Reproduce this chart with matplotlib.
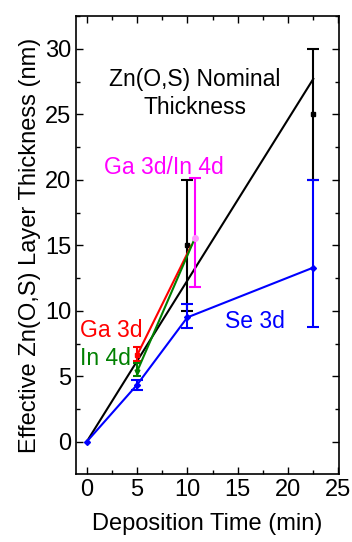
import matplotlib
matplotlib.use('Agg')
import matplotlib.pyplot as plt
from matplotlib.ticker import MultipleLocator

plt.rcParams['font.family'] = ['Liberation Sans', 'DejaVu Sans']
plt.rcParams['font.size'] = 16

# nominal thickness line
nom_time = [0, 22.5]
nom_thick = [0, 27.7]

# Zn(O,S) nominal points with error bars
zn_time = [10, 22.5]
zn_thick = [15, 25]
zn_err = [5, 5]

# Ga 3d
ga_time = [5, 10.4]
ga_thick = [6.6, 15.0]
ga_lo = [0.4, 0]
ga_hi = [0.65, 0]

# In 4d
in_time = [5, 10.75]
in_thick = [5.35, 15.55]
in_lo = [0.35, 0]
in_hi = [0.65, 0]

# Ga 3d/In 4d
gi_time = [10.75]
gi_thick = [15.55]
gi_lo = [3.75]
gi_hi = [4.55]

# Se 3d
se_time = [0, 5, 10, 22.5]
se_thick = [0, 4.35, 9.5, 13.3]
se_lo = [0, 0.4, 0.8, 4.5]
se_hi = [0, 0.4, 1.05, 6.65]

fig = plt.figure(figsize=(3.52, 5.42), dpi=100)
ax = fig.add_axes([0.216, 0.1255, 0.747, 0.845])

ax.plot(nom_time, nom_thick, 'k-', lw=1.5)
ax.errorbar(zn_time, zn_thick, yerr=zn_err, fmt='ks', ms=3.5, lw=1.5,
            capsize=4, capthick=1.5, ls='none')

ax.errorbar(se_time, se_thick, yerr=[se_lo, se_hi], color='#0000ff', marker='D', ms=3,
            lw=1.5, capsize=4, capthick=1.5, errorevery=(1, 1))

ax.errorbar(ga_time, ga_thick, yerr=[ga_lo, ga_hi], color='#ff0000', marker='s', ms=3,
            lw=1.5, capsize=3, capthick=1.5, errorevery=(0, 2), markevery=[0])
ax.errorbar(in_time, in_thick, yerr=[in_lo, in_hi], color='#008000', marker='v', ms=3.5,
            lw=1.5, capsize=3, capthick=1.5, errorevery=(0, 2), markevery=[0])
ax.errorbar(gi_time, gi_thick, yerr=[gi_lo, gi_hi], color='#ff00ff', marker='o', ms=4,
            mfc='#ff99ff', mec='#ff99ff', lw=1.5, capsize=4, capthick=1.5, ls='none')

ax.text(10.75, 26.6, 'Zn(O,S) Nominal\nThickness', ha='center', va='center',
        fontsize=16.5, linespacing=1.3)
ax.text(7.7, 20.9, 'Ga 3d/In 4d', color='#ff00ff', ha='center', va='center', fontsize=16.5)
ax.text(-0.7, 8.5, 'Ga 3d', color='#ff0000', ha='left', va='center', fontsize=16.5)
ax.text(-0.7, 6.4, 'In 4d', color='#008000', ha='left', va='center', fontsize=16.5)
ax.text(16.7, 9.15, 'Se 3d', color='#0000ff', ha='center', va='center', fontsize=16.5)

ax.set_xlim(-1.05, 25.05)
ax.set_ylim(-2.45, 32.5)
ax.xaxis.set_major_locator(MultipleLocator(5))
ax.xaxis.set_minor_locator(MultipleLocator(2.5))
ax.yaxis.set_major_locator(MultipleLocator(5))
ax.yaxis.set_minor_locator(MultipleLocator(2.5))
ax.tick_params(which='both', direction='in', top=True, right=True, width=1)
ax.tick_params(which='major', length=5, labelsize=17)
ax.tick_params(which='minor', length=3)
for s in ax.spines.values():
    s.set_linewidth(1.2)

ax.set_xlabel('Deposition Time (min)', fontsize=17, labelpad=9)
ax.set_ylabel('Effective Zn(O,S) Layer Thickness (nm)', fontsize=17, labelpad=3)

fig.savefig('out.png', dpi=100)
